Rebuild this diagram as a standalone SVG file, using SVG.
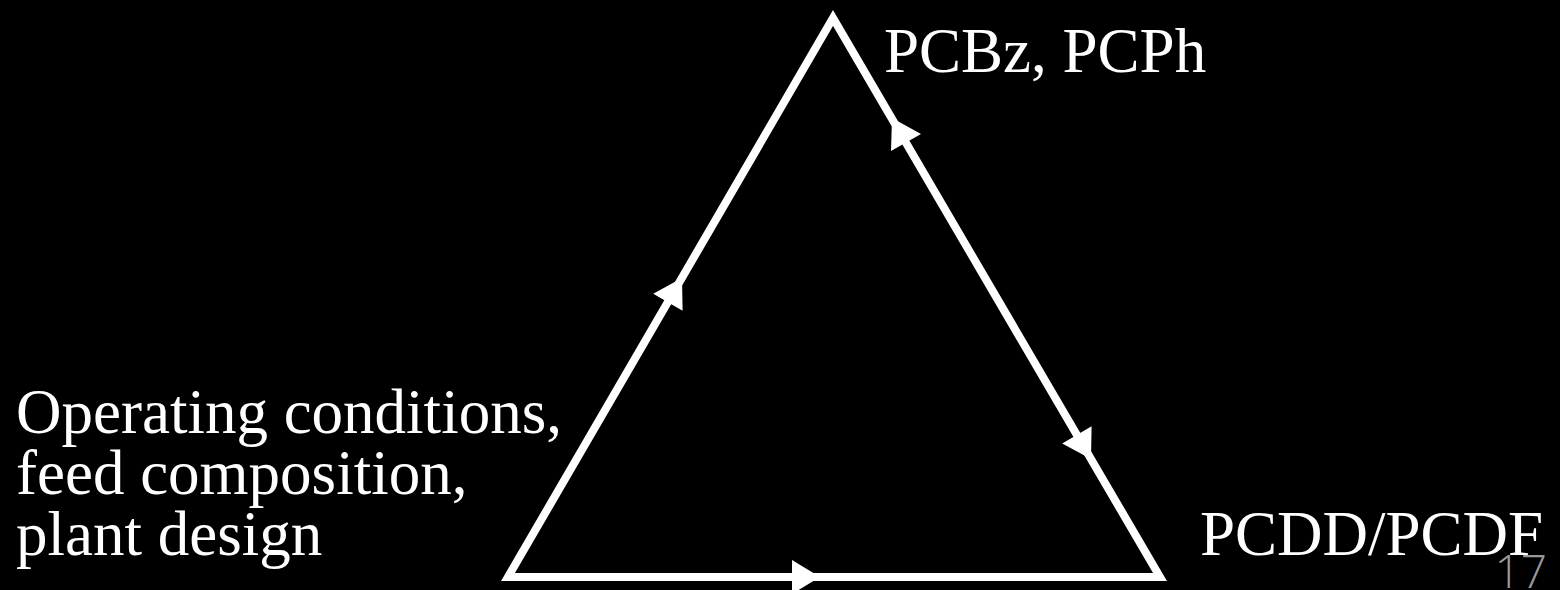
<svg xmlns="http://www.w3.org/2000/svg" width="1560" height="590" viewBox="0 0 1560 590">
<style>
.lbl{font-family:"Liberation Serif","Times New Roman",serif;font-size:63px;fill:#fff}
.edge{stroke:#fff;stroke-width:8;fill:none;stroke-linejoin:miter;stroke-linecap:butt}
.head{fill:#fff;stroke:none}
.pg{font-family:"Open Sans","Liberation Sans",sans-serif;font-weight:300;font-size:46px;fill:#999}
</style>
<rect x="0" y="0" width="1560" height="590" fill="#000"/>
<g id="connectors">
<polygon class="edge" points="508,577 833,18 1160,577"/>
<polygon class="head" points="682,278 682.6,310.7 653.2,293.7"/>
<polygon class="head" points="892,118 921,134 891,151"/>
<polygon class="head" points="1091,459 1091.6,426.2 1062.2,443.4"/>
<polygon class="head" points="820,577 792,560 792,594"/>
</g>
<g id="node-top"><text class="lbl" x="884" y="72">PCBz, PCPh</text></g>
<g id="node-left"><text class="lbl" x="16" y="433">Operating conditions,</text><text class="lbl" x="16" y="494">feed composition,</text><text class="lbl" x="16" y="555">plant design</text></g>
<g id="node-right"><text class="lbl" x="1200" y="555">PCDD/PCDF</text></g>
<g id="page-number"><text class="pg" x="1547" y="588" text-anchor="end">17</text></g>
</svg>
